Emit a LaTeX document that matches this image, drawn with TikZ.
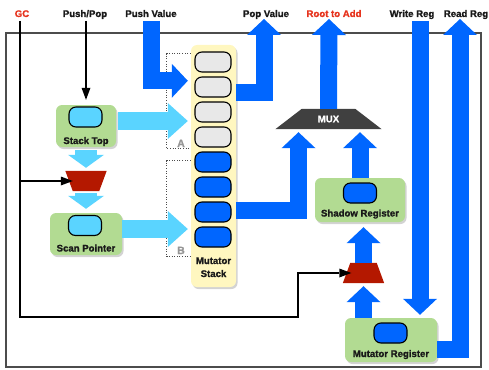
\documentclass[tikz,border=0pt]{standalone}
\usepackage{fontspec}
\setmainfont{Liberation Sans}[BoldFeatures={FakeBold=1.3}]
\usetikzlibrary{arrows.meta,shadows,calc,backgrounds}

\definecolor{wireblue}{RGB}{0,102,255}
\definecolor{skyblue}{RGB}{90,212,255}
\definecolor{boxgreen}{RGB}{178,219,146}
\definecolor{stackyellow}{RGB}{255,247,192}
\definecolor{cellgray}{RGB}{232,232,232}
\definecolor{muxred}{RGB}{180,24,0}
\definecolor{muxgray}{RGB}{64,64,64}
\definecolor{signalred}{RGB}{230,52,30}
\definecolor{inkgray}{RGB}{25,25,25}
\definecolor{tagtext}{RGB}{150,150,150}

\begin{document}
\begin{tikzpicture}[x=1pt,y=-1pt,
  font=\fontsize{9.6}{11}\selectfont\bfseries,
  every node/.style={inner sep=0pt, text=inkgray},
  lbl/.style={anchor=base},
  hot/.style={lbl, text=signalred},
  tag/.style={lbl, text=tagtext, font=\fontsize{10.5}{12}\selectfont\bfseries},
  regbox/.style={fill=boxgreen, rounded corners=6pt,
    drop shadow={shadow xshift=1.5pt, shadow yshift=-2pt, opacity=0.35}},
  pill/.style={draw=black, line width=1.1pt, rounded corners=7pt,
    minimum width=33pt, minimum height=20pt},
  cell/.style={pill, minimum width=36pt},
  fat/.style={draw=wireblue, line width=17pt, line join=miter,
    -{Triangle[width=34pt, length=16pt, line width=0pt]}},
  sky/.style={draw=skyblue, line width=18pt,
    -{Triangle[width=36pt, length=20pt, line width=0pt]}},
  skydown/.style={draw=skyblue, line width=22pt,
    -{Triangle[width=36pt, length=13pt, line width=0pt]}},
  wire/.style={draw=black, line width=2.6pt, line join=miter,
    -{Triangle[length=12pt, width=9pt, line width=0pt]}},
  bracket/.style={draw=black!70, line width=0.9pt, dash pattern=on 1pt off 1.6pt},
]
\useasboundingbox (0,0) rectangle (489,369);

% outer frame
\draw[draw=black!70, line width=1.1pt] (6,33) rectangle (481,367);

% signal names along the top
\node[hot] (gcname)   at (22,17)  {GC};
\node[lbl] (ppname)   at (85,17)  {Push/Pop};
\node[lbl] (pvname)   at (151,17) {Push Value};
\node[lbl] (popname)  at (266,17) {Pop Value};
\node[hot] (rootname) at (334,17) {Root to Add};
\node[lbl] (wrname)   at (412,17) {Write Reg};
\node[lbl] (rrname)   at (466,17) {Read Reg};

\coordinate (gctop)    at (20,21);
\coordinate (pptop)    at (86,21);
\coordinate (pushtop)  at (151.5,21);
\coordinate (poptop)   at (264,19);
\coordinate (roottop)  at (329,19);
\coordinate (writetop) at (420,21);
\coordinate (readtop)  at (460,19);
\coordinate (gcbend)   at (298,317);

% mutator stack
\node[fill=stackyellow, rounded corners=6pt, minimum width=45pt, minimum height=242pt,
  drop shadow={shadow xshift=1.5pt, shadow yshift=-2pt, opacity=0.35}] (stack) at (213.5,166) {};
\foreach \i in {1,...,4} \node[cell, fill=cellgray] (cell\i) at (213,{62+25*(\i-1)}) {};
\foreach \i in {5,...,8} \node[cell, fill=wireblue] (cell\i) at (213,{62+25*(\i-1)}) {};
\node[lbl] (mslabelA) at (213.5,264) {Mutator};
\node[lbl] (mslabelB) at (213.5,277) {Stack};

% stack regions A and B
\draw[bracket] ($(stack.north west)+(0,9)$) -- ++(-24,0) -- ++(0,95) -- ++(24,0);
\draw[bracket] ($(stack.north west)+(0,116)$) -- ++(-24,0) -- ++(0,96) -- ++(24,0);
\node[tag] (tagA) at (181,147) {A};
\node[tag] (tagB) at (181,254) {B};

% registers
\node[regbox, minimum width=60pt, minimum height=42pt] (stacktop) at (86,126) {};
\node[pill, fill=skyblue] (stpill) at (85.5,117) {};
\node[lbl] (stlabel) at (86,144) {Stack Top};

\node[regbox, minimum width=72pt, minimum height=42pt] (scanptr) at (86,234) {};
\node[pill, fill=skyblue] (sppill) at (85,225.5) {};
\node[lbl] (splabel) at (86,251.5) {Scan Pointer};

\node[regbox, minimum width=90pt, minimum height=44pt] (shadow) at (360,200) {};
\node[pill, fill=wireblue] (srpill) at (360,193) {};
\node[lbl] (srlabel) at (360,216.5) {Shadow Register};

\node[regbox, minimum width=92pt, minimum height=44pt] (mutreg) at (391,340) {};
\node[pill, fill=wireblue] (mrpill) at (390.5,333) {};
\node[lbl] (mrlabel) at (391,357) {Mutator Register};

% multiplexers
\node[minimum width=53pt, minimum height=20pt, text=white] (mux) at (328.5,119) {MUX};
\node[minimum width=26pt, minimum height=20pt] (rm1) at (86,181) {};
\node[minimum width=26pt, minimum height=20pt] (rm2) at (363.5,273) {};
\begin{scope}[on background layer]
  \fill[muxgray] (mux.north west) -- (mux.north east)
    -- ([xshift=26.5pt]mux.south east) -- ([xshift=-26.5pt]mux.south west) -- cycle;
  \fill[muxred] ([xshift=-7.5pt]rm1.north west) -- ([xshift=7.5pt]rm1.north east)
    -- (rm1.south east) -- (rm1.south west) -- cycle;
  \fill[muxred] (rm2.north west) -- (rm2.north east)
    -- ([xshift=7.5pt]rm2.south east) -- ([xshift=-7.5pt]rm2.south west) -- cycle;
\end{scope}

% light blue pointer paths
\draw[sky] ($(stacktop.east)+(2,-5)$) -- ($(stack.west)+(-3,-45)$);
\draw[sky] ($(scanptr.east)+(0,-5)$) -- ($(stack.west)+(-3,63)$);
\draw[skydown] ($(stacktop.south)+(0,3)$) -- ($(rm1.north)+(0,-3)$);
\draw[skydown] ($(rm1.south)+(0,2)$) -- ($(scanptr.north)+(0,-4)$);

% blue data paths
\draw[fat] (pushtop) |- ($(stack.north west)+(-3,36)$);
\draw[fat] ($(stack.north east)+(0,48)$) -| (poptop);
\draw[fat] (mux.north) -- (roottop);
\draw[fat] ($(stack.east)+(0,44.5)$) -| ($(mux.south)+(-30,3)$);
\draw[fat] (shadow.north) -- ($(shadow.north |- mux.south)+(0,3)$);
\draw[fat] (rm2.north) -- ($(rm2.north |- shadow.south)+(0,5)$);
\draw[fat] (rm2.south |- mutreg.north) -- ($(rm2.south)+(0,3)$);
\draw[fat] (writetop) -- ($(writetop |- mutreg.north)+(0,-3)$);
\draw[fat] ($(mutreg.east)+(0,9.5)$) -| (readtop);

% control wires
\draw[wire] (pptop) -- ($(stacktop.north)+(0,-5)$);
\draw[wire] (gctop) |- (gcbend) |- ($(rm2.west)+(1,0)$);
\draw[wire] (gctop |- rm1.west) -- (rm1.west);
\end{tikzpicture}
\end{document}
